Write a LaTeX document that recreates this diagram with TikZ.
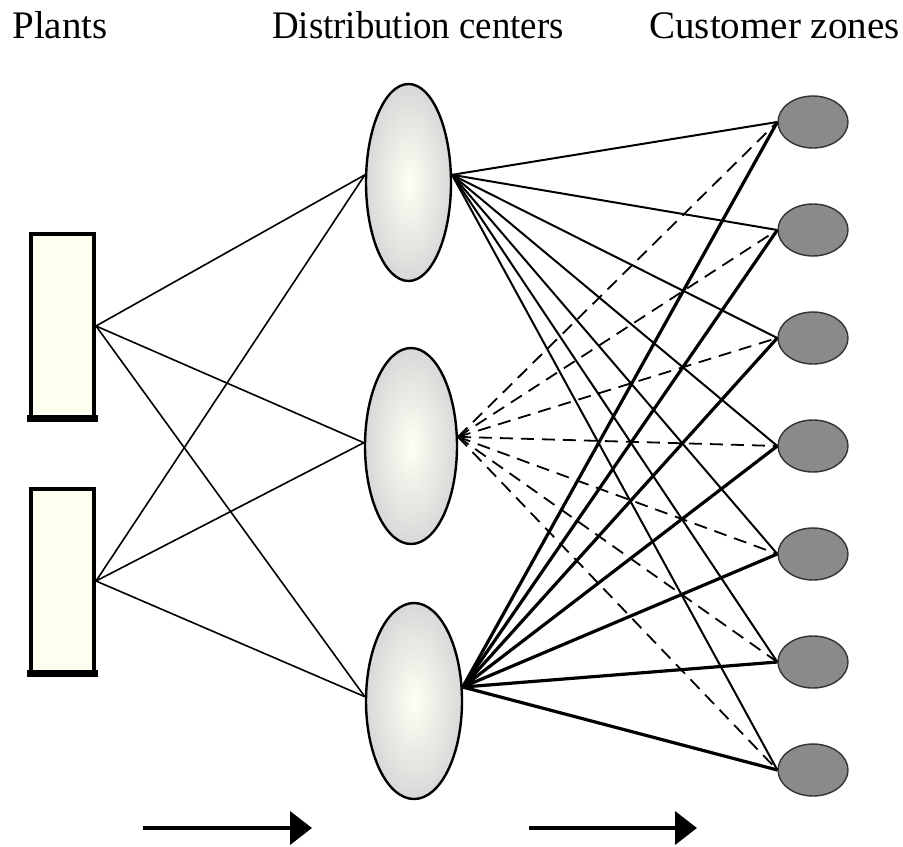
\documentclass[tikz,border=0pt]{standalone}
\usepackage{fontspec}
\setmainfont{Liberation Serif}
\newfontfamily\condserif[FakeStretch=0.945]{Liberation Serif}
\usetikzlibrary{shapes.geometric}
\usetikzlibrary{arrows.meta}

\definecolor{plantfill}{HTML}{FFFFF0}
\definecolor{zonefill}{HTML}{8A8A8A}
\definecolor{dcouter}{HTML}{D8D8D8}
\definecolor{dcinner}{HTML}{FFFFF4}

\begin{document}
\begin{tikzpicture}[x=0.5pt, y=-0.5pt,
    plantbox/.style={draw, line width=2pt, fill=plantfill, minimum width=31.5pt, minimum height=92pt, inner sep=0pt},
    dcnode/.style={draw, ellipse, line width=1.2pt, inner color=dcinner, outer color=dcouter, inner sep=0pt},
    zonenode/.style={draw=black!80, ellipse, line width=0.7pt, fill=zonefill, minimum width=35pt, minimum height=26pt, inner sep=0pt},
    title/.style={font=\fontsize{19.5}{23}\selectfont, inner sep=0pt},
    thinlink/.style={line width=0.8pt},
    dclink/.style={line width=1pt},
    dashlink/.style={line width=0.9pt, dash pattern=on 6.5pt off 4pt},
    heavylink/.style={line width=1.6pt},
    flow/.style={line width=2pt, -{Triangle[length=11pt, width=16.5pt]}}]
            \useasboundingbox (0,0) rectangle (903,846);

            % Titulos
            \node[title, anchor=base west] (tplants) at (12,38) {Plants};
            \node[title, anchor=base] (tdc) at (418,38) {\condserif Distribution centers};
            \node[title, anchor=base] (tzones) at (774.5,38) {Customer zones};

            % Plantas
            \node[plantbox] (p1) at (62.5,326) {};
            \node[plantbox] (p2) at (62.5,581) {};
            \fill ([xshift=-1pt,yshift=-1pt]p1.south west) rectangle ([xshift=1pt,yshift=2.5pt]p1.south east);
            \fill ([xshift=-1pt,yshift=-1pt]p2.south west) rectangle ([xshift=1pt,yshift=2.5pt]p2.south east);

            % Centros de distribucion
            \node[dcnode, minimum width=42.5pt, minimum height=98.5pt] (dc1) at (408.5,182.5) {};
            \node[dcnode, minimum width=46pt, minimum height=98pt] (dc2) at (411,446) {};
            \node[dcnode, minimum width=48pt, minimum height=98pt] (dc3) at (414,701) {};

            % Zonas de clientes
            \node[zonenode] (z1) at (813,122) {};
            \node[zonenode] (z2) at (813,230) {};
            \node[zonenode] (z3) at (813,338) {};
            \node[zonenode] (z4) at (813,446) {};
            \node[zonenode] (z5) at (813,554) {};
            \node[zonenode] (z6) at (813,662) {};
            \node[zonenode] (z7) at (813,770) {};

            % Plantas a centros
            \draw[thinlink] (p1.east) -- (dc1.170);
            \draw[thinlink] (p1.east) -- (dc2.176);
            \draw[thinlink] (p1.east) -- (dc3.175);
            \draw[thinlink] (p2.east) -- (dc1.170);
            \draw[thinlink] (p2.east) -- (dc2.176);
            \draw[thinlink] (p2.east) -- (dc3.175);

            % Centro 1 a zonas
            \draw[dclink] (dc1.10) -- (z1.west);
            \draw[dclink] (dc1.10) -- (z2.west);
            \draw[dclink] (dc1.10) -- (z3.west);
            \draw[dclink] (dc1.10) -- (z4.west);
            \draw[dclink] (dc1.10) -- (z5.west);
            \draw[dclink] (dc1.10) -- (z6.west);
            \draw[dclink] (dc1.10) -- (z7.west);

            % Centro 2 a zonas
            \draw[dashlink] (dc2.11) -- (z1.west);
            \draw[dashlink] (dc2.11) -- (z2.west);
            \draw[dashlink] (dc2.11) -- (z3.west);
            \draw[dashlink] (dc2.11) -- (z4.west);
            \draw[dashlink] (dc2.11) -- (z5.west);
            \draw[dashlink] (dc2.11) -- (z6.west);
            \draw[dashlink] (dc2.11) -- (z7.west);

            % Centro 3 a zonas
            \draw[heavylink] (dc3.16) -- (z1.west);
            \draw[heavylink] (dc3.16) -- (z2.west);
            \draw[heavylink] (dc3.16) -- (z3.west);
            \draw[heavylink] (dc3.16) -- (z4.west);
            \draw[heavylink] (dc3.16) -- (z5.west);
            \draw[heavylink] (dc3.16) -- (z6.west);
            \draw[heavylink] (dc3.16) -- (z7.west);

            % Flechas de flujo
            \coordinate (f1a) at (143,828);
            \coordinate (f1b) at (312,828);
            \coordinate (f2a) at (529,828);
            \coordinate (f2b) at (697,828);
            \draw[flow] (f1a) -- (f1b);
            \draw[flow] (f2a) -- (f2b);
          \end{tikzpicture}
\end{document}
